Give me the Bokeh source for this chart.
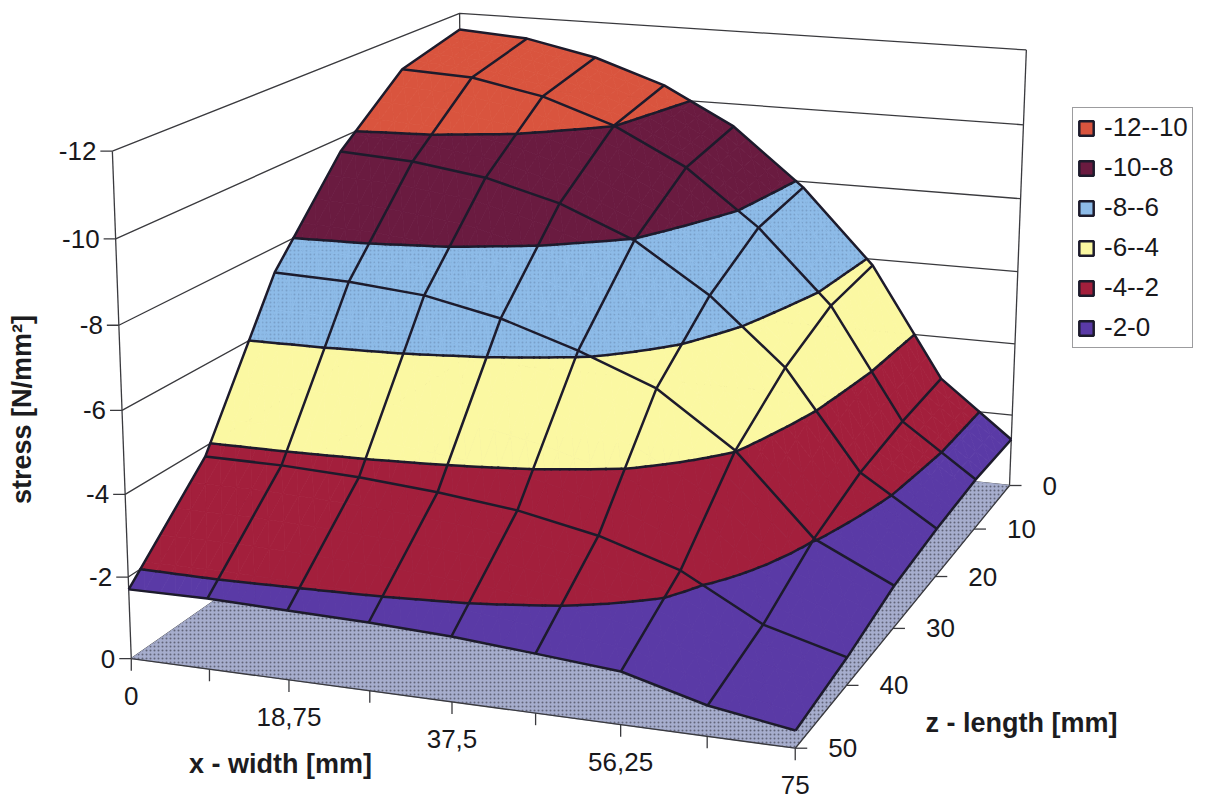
import numpy as np
from bokeh.core.properties import value
from bokeh.embed import file_html
from bokeh.models import Legend, LegendItem
from bokeh.plotting import figure
from bokeh.resources import INLINE

# Stress [N/mm²] over the plate: one row per length station, one column per width station
x_width = [0, 9.375, 18.75, 28.125, 37.5, 46.875, 56.25, 65.625, 75]
z_length = [0, 10, 20, 30, 40, 50]
stress = [
    [-11.55, -11.42, -11.02, -10.38, -9.38, -7.84, -5.83, -2.83, -1.31],
    [-11.11, -11.02, -10.65, -10.01, -9.04, -7.59, -5.67, -2.73, -1.36],
    [-9.65, -9.54, -9.27, -8.76, -7.97, -6.72, -5.04, -2.51, -1.26],
    [-7.37, -7.31, -7.14, -6.74, -6.12, -5.37, -4.02, -2.03, -1.08],
    [-3.75, -3.74, -3.66, -3.51, -3.29, -2.90, -2.29, -1.22, -0.68],
    [-1.70, -1.72, -1.68, -1.64, -1.56, -1.41, -1.25, -0.72, -0.41],
]

stress_ticks = [0, -2, -4, -6, -8, -10, -12]
x_ticks = [0, 9.375, 18.75, 28.125, 37.5, 46.875, 56.25, 65.625, 75]
x_tick_labels = {0: "0", 18.75: "18,75", 37.5: "37,5", 56.25: "56,25", 75: "75"}
z_ticks = [0, 10, 20, 30, 40, 50]
z_tick_labels = ["0", "10", "20", "30", "40", "50"]

band_labels = ["-12--10", "-10--8", "-8--6", "-6--4", "-4--2", "-2-0"]
band_limits = [(-12, -10), (-10, -8), (-8, -6), (-6, -4), (-4, -2), (-2, 0)]
band_colors = ["#d9543e", "#6a1b40", "#8dbbe8", "#fbf8a2", "#a31f3c", "#5a3aa6"]
band_stipple = [0, 0, 0.22, 0, 0, 0]

FONT_NAME = "Liberation Sans"
FONT = value(FONT_NAME)
INK = "#1d1b2c"
WALL = "#3a3a3e"
LABEL = "#18181c"

# Perspective camera of the 3D box: (x, z, -stress, 1) -> page pixels
CAMERA = np.array([
    [6.5751603, -7.1417627, -1.588668, 462.5032912],
    [0.4352459, 2.075889, -34.5168694, 426.7018191],
    [-0.0007053, -0.0038791, -0.0028436, 1.0],
])


def project(x, z, s):
    q = CAMERA @ np.array([x, z, -s, 1.0])
    return q[0] / q[2], q[1] / q[2]


def project_path(points):
    pts = [project(*pt) for pt in points]
    return [a for a, _ in pts], [b for _, b in pts]


def clip(poly, level, keep_above):
    """Cut a polygon of (x, z, s) vertices at a stress level."""
    out = []
    for k, cur in enumerate(poly):
        nxt = poly[(k + 1) % len(poly)]
        cur_in = cur[2] >= level if keep_above else cur[2] <= level
        nxt_in = nxt[2] >= level if keep_above else nxt[2] <= level
        if cur_in:
            out.append(cur)
        if cur_in != nxt_in:
            t = (level - cur[2]) / (nxt[2] - cur[2])
            out.append(tuple(cur[m] + t * (nxt[m] - cur[m]) for m in range(3)))
    return out


def crossing(tri, level):
    """Segment of a stress level inside a triangle, if it passes through."""
    hits = []
    for k in range(3):
        a, b = tri[k], tri[(k + 1) % 3]
        if (a[2] < level) != (b[2] < level):
            t = (level - a[2]) / (b[2] - a[2])
            hits.append((a[0] + t * (b[0] - a[0]), a[1] + t * (b[1] - a[1]), level))
    return hits if len(hits) == 2 else None


S = np.array(stress)
STEPS = 5
band_xs = [[] for _ in band_limits]
band_ys = [[] for _ in band_limits]
contour_xs, contour_ys = [], []


def node(j, i, u, v):
    x = x_width[i] + u * (x_width[i + 1] - x_width[i])
    z = z_length[j] + v * (z_length[j + 1] - z_length[j])
    s = ((1 - u) * (1 - v) * S[j, i] + u * (1 - v) * S[j, i + 1]
         + (1 - u) * v * S[j + 1, i] + u * v * S[j + 1, i + 1])
    return (x, z, float(s))


# Surface patches, far corner first
for j in range(len(z_length) - 1):
    for i in range(len(x_width) - 1):
        for a in range(STEPS):
            for b in range(STEPS):
                u0, u1, v0, v1 = a / STEPS, (a + 1) / STEPS, b / STEPS, (b + 1) / STEPS
                p00, p10 = node(j, i, u0, v0), node(j, i, u1, v0)
                p01, p11 = node(j, i, u0, v1), node(j, i, u1, v1)
                for tri in ([p00, p10, p11], [p00, p11, p01]):
                    for n, (lo, hi) in enumerate(band_limits):
                        poly = clip(clip(tri, lo, True), hi, False)
                        if len(poly) >= 3:
                            xs, ys = project_path(poly)
                            band_xs[n].append(xs)
                            band_ys[n].append(ys)
                    for level in (-10, -8, -6, -4, -2):
                        seg = crossing(tri, level)
                        if seg:
                            xs, ys = project_path(seg)
                            contour_xs.append(xs)
                            contour_ys.append(ys)

p = figure(width=1205, height=799, x_range=(0, 1205), y_range=(799, 0),
           output_backend="svg", toolbar_location=None, min_border=0,
           background_fill_color="white", border_fill_color="white")
p.axis.visible = False
p.grid.visible = False
p.outline_line_color = None

x0, x1 = x_ticks[0], x_ticks[-1]
z0, z1 = z_ticks[0], z_ticks[-1]
s_top = stress_ticks[-1]

# Box walls and their gridlines
wall_xs, wall_ys = [], []
for s in stress_ticks:
    a, b = project_path([(x0, z1, s), (x0, z0, s), (x1, z0, s)])
    wall_xs.append(a)
    wall_ys.append(b)
for x, z in ((x0, z1), (x0, z0), (x1, z0)):
    a, b = project_path([(x, z, 0), (x, z, s_top)])
    wall_xs.append(a)
    wall_ys.append(b)
p.multi_line(wall_xs, wall_ys, line_color=WALL, line_width=1.3)

# Stippled floor
fx, fy = project_path([(x0, z1, 0), (x1, z1, 0), (x1, z0, 0), (x0, z0, 0)])
p.patches([fx], [fy], fill_color="#a6adcd", line_color="#a6adcd",
          hatch_pattern="dot", hatch_color="#33333f", hatch_scale=4, hatch_alpha=0.6)

# Surface bands
for n, color in enumerate(band_colors):
    extra = {}
    if band_stipple[n]:
        extra = dict(hatch_pattern="dot", hatch_color="#33405a", hatch_scale=4,
                     hatch_alpha=band_stipple[n])
    p.patches(band_xs[n], band_ys[n], fill_color=color, line_color=color, line_width=0.8, **extra)

# Band boundaries and mesh
p.multi_line(contour_xs, contour_ys, line_color=INK, line_width=2.5, line_cap="round")
mesh_xs, mesh_ys = [], []
for j, z in enumerate(z_length):
    a, b = project_path([(x, z, S[j, i]) for i, x in enumerate(x_width)])
    mesh_xs.append(a)
    mesh_ys.append(b)
for i, x in enumerate(x_width):
    a, b = project_path([(x, z, S[j, i]) for j, z in enumerate(z_length)])
    mesh_xs.append(a)
    mesh_ys.append(b)
p.multi_line(mesh_xs, mesh_ys, line_color=INK, line_width=2.5, line_join="round")

# Floor edges and tick marks
a, b = project_path([(x0, z1, 0), (x1, z1, 0), (x1, z0, 0)])
p.line(a, b, line_color=WALL, line_width=1.3)

TICK_SIZE = "26px"
tick_xs, tick_ys = [], []
lab_x, lab_y, lab_t = [], [], []
for s in stress_ticks:
    u, v = project(x0, z1, s)
    tick_xs.append([u - 12, u])
    tick_ys.append([v, v])
    lab_x.append(u - 16)
    lab_y.append(v)
    lab_t.append(str(s))
p.text(lab_x, lab_y, text=lab_t, text_font=FONT, text_font_size=TICK_SIZE,
       text_align="right", text_baseline="middle", text_color=LABEL)

lab_x, lab_y, lab_t = [], [], []
for x in x_ticks:
    u, v = project(x, z1, 0)
    tick_xs.append([u, u])
    tick_ys.append([v, v + 12])
    if x in x_tick_labels:
        lab_x.append(u)
        lab_y.append(v + 37)
        lab_t.append(x_tick_labels[x])
p.text(lab_x, lab_y, text=lab_t, text_font=FONT, text_font_size=TICK_SIZE,
       text_align="center", text_baseline="middle", text_color=LABEL)

lab_x, lab_y = [], []
for z in z_ticks:
    u, v = project(x1, z, 0)
    tick_xs.append([u, u + 12])
    tick_ys.append([v, v])
    lab_x.append(u + 33)
    lab_y.append(v)
p.text(lab_x, lab_y, text=z_tick_labels, text_font=FONT, text_font_size=TICK_SIZE,
       text_align="left", text_baseline="middle", text_color=LABEL)
p.multi_line(tick_xs, tick_ys, line_color=WALL, line_width=1.3)

# Axis titles
for tx, ty, label, angle in ((280, 763, "x - width [mm]", 0),
                             (1021, 722, "z - length [mm]", 0),
                             (21, 409, "stress [N/mm²]", np.pi / 2)):
    p.text([tx], [ty], text=[label], text_font=FONT, text_font_size="27px",
           text_font_style="bold", text_align="center", text_baseline="middle",
           text_color="#1c1c20", angle=angle)

# Legend swatches: keys only, nothing drawn on the page
items = []
for label, color in zip(band_labels, band_colors):
    swatch = p.quad(left=[np.nan], right=[np.nan], top=[np.nan], bottom=[np.nan],
                    fill_color=color, line_color=INK, line_width=2.5)
    items.append(LegendItem(label=value(label), renderers=[swatch]))
legend = Legend(items=items, location=(1072, 451), orientation="vertical",
                glyph_width=18, glyph_height=18, label_standoff=9, spacing=9,
                padding=4, margin=0, label_text_font=FONT_NAME, label_text_font_size="26px",
                label_text_color=LABEL, border_line_color=WALL, border_line_width=1.3,
                background_fill_alpha=1)
p.add_layout(legend, "center")

open("out.html", "w").write(file_html(p, INLINE))
